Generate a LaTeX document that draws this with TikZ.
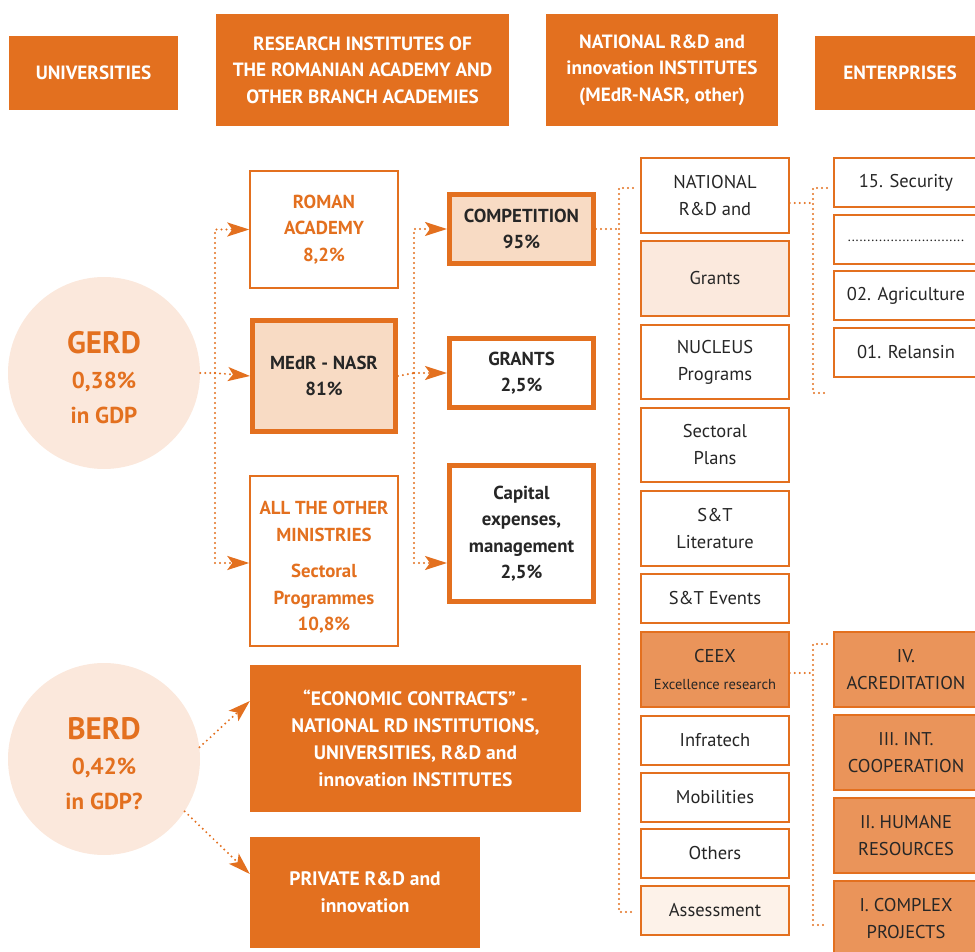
\documentclass[tikz,border=0pt]{standalone}
\usepackage{fontspec}
\setmainfont{PT Sans}
\usetikzlibrary{arrows.meta}
\definecolor{org}{HTML}{E3701F}
\definecolor{peach}{HTML}{FBE8DC}
\definecolor{medfill}{HTML}{F8DBC4}
\definecolor{ceexfill}{HTML}{EA945A}
\definecolor{lightp}{HTML}{FBE9DD}
\definecolor{vlight}{HTML}{FDF2E9}
\definecolor{dark}{HTML}{262626}
\newcommand\fs[2]{\fontsize{#1}{#2}\selectfont}
\newcommand\mybox[7]{\node[#6, minimum width={(#4-#2)*1pt}, minimum height={(#5-#3)*1pt}] (#1) at ({(#2+#4)/2},{(#3+#5)/2}) {#7};}
\begin{document}
\begin{tikzpicture}[x=1pt,y=-1pt,
  bx/.style={rectangle, inner sep=0pt, align=center},
  hdr/.style={bx, fill=org, text=white, font=\bfseries\fs{19.2}{26.5}},
  thinbox/.style={bx, draw=org, line width=1.4pt, fill=white},
  thickbox/.style={bx, draw=org, line width=5pt},
  orgtxt/.style={text=org, font=\bfseries\fs{18.8}{26.5}},
  darktxt/.style={text=dark, font=\bfseries\fs{18.8}{26.5}},
  rbox/.style={thinbox, text=dark, font=\fs{18.5}{27}},
  fbox/.style={bx, draw=org, line width=1.4pt, fill=ceexfill, text=dark, font=\fs{18.5}{27}},
  circ/.style={circle, fill=peach, minimum size=192pt, inner sep=0pt, align=center, text=org, font=\bfseries\fs{23}{35}},
  dots/.style={draw=org, line width=2.2pt, line cap=round, dash pattern=on 0pt off 5pt},
  arr/.style={dots, -{Stealth[length=22pt, width=14pt, inset=5pt]}},
]
\useasboundingbox (0,0) rectangle (975,952);

% headers
\mybox{univ}{9}{36}{178}{110}{hdr}{UNIVERSITIES}
\mybox{rinst}{216}{14}{509}{126}{hdr}{RESEARCH INSTITUTES OF\\THE ROMANIAN ACADEMY AND\\OTHER BRANCH ACADEMIES}
\mybox{ninst}{546}{14}{778}{126}{hdr}{NATIONAL R\&D and\\innovation INSTITUTES\\(MEdR-NASR, other)}
\mybox{ent}{815}{36}{985}{110}{hdr}{ENTERPRISES}

% circles
\node[circ] (gerd) at (104,373) {{\fs{31}{35}\rule{0pt}{31pt}GERD}\\0,38\%\\in GDP};
\node[circ] (berd) at (104,759) {{\fs{31}{35}\rule{0pt}{31pt}BERD}\\0,42\%\\in GDP?};

% middle columns
\mybox{roman}{250}{171}{398}{288}{thinbox, orgtxt}{ROMAN\\ACADEMY\\8,2\%}
\mybox{medr}{252.5}{320.5}{395.5}{431.5}{thickbox, fill=medfill, darktxt}{MEdR - NASR\\81\%}
\mybox{other}{250}{476}{398}{646}{thinbox, orgtxt}{\rule{0pt}{26pt}ALL THE OTHER\\MINISTRIES\\[10pt]Sectoral\\Programmes\\10,8\%}
\mybox{comp}{449.5}{194.5}{593.5}{263.5}{thickbox, fill=medfill, darktxt}{COMPETITION\\95\%}
\mybox{grants}{449.5}{338.5}{593.5}{407.5}{thickbox, fill=white, darktxt}{GRANTS\\2,5\%}
\mybox{capex}{449.5}{465.5}{593.5}{601.5}{thickbox, fill=white, darktxt}{Capital\\expenses,\\management\\2,5\%}

% right column
\mybox{nat}{641}{158}{789}{233}{rbox}{NATIONAL\\R\&D and}
\mybox{grnt}{641}{241}{789}{316}{rbox, fill=lightp}{Grants}
\mybox{nuc}{641}{325}{789}{399}{rbox}{NUCLEUS\\Programs}
\mybox{sect}{641}{408}{789}{482}{rbox}{Sectoral\\Plans}
\mybox{lit}{641}{491}{789}{566}{rbox}{S\&T\\Literature}
\mybox{ev}{641}{574}{789}{623}{rbox}{S\&T Events}
\mybox{ceex}{641}{632}{789}{707}{fbox}{CEEX\\{\fs{14.5}{27}Excellence research}}
\mybox{infra}{641}{716}{789}{765}{rbox}{Infratech}
\mybox{mob}{641}{773}{789}{822}{rbox}{Mobilities}
\mybox{oth}{641}{829}{789}{878}{rbox}{Others}
\mybox{asm}{641}{886}{789}{935}{rbox, fill=vlight}{Assessment}

% far right column
\mybox{sec}{834}{158}{978}{207}{rbox}{15. Security}
\mybox{etc}{834}{215}{978}{264}{rbox}{\raisebox{-4pt}{\fs{14}{27}..............................}}
\mybox{agr}{834}{271}{978}{320}{rbox}{02. Agriculture}
\mybox{rel}{834}{328}{978}{377}{rbox}{01. Relansin}
\mybox{acr}{834}{632}{978}{707}{fbox}{IV.\\ACREDITATION}
\mybox{coop}{834}{715}{978}{790}{fbox}{III. INT.\\COOPERATION}
\mybox{hum}{834}{798}{978}{873}{fbox}{II. HUMANE\\RESOURCES}
\mybox{cplx}{834}{881}{978}{956}{fbox}{I. COMPLEX\\PROJECTS}

% bottom boxes
\mybox{econ}{250}{665}{581}{812}{hdr, font=\bfseries\fs{19.5}{27}}{``ECONOMIC CONTRACTS'' -\\NATIONAL RD INSTITUTIONS,\\UNIVERSITIES, R\&D and\\innovation INSTITUTES}
\mybox{priv}{250}{837}{480}{948}{hdr, font=\bfseries\fs{19.5}{27}}{PRIVATE R\&D and\\innovation}

% connectors: GERD
\coordinate (j1) at (215,373);
\coordinate (j1b) at (215,563);
\draw[dots] (gerd.east) -- (j1);
\draw[arr] (j1) |- (roman.west);
\draw[arr] (j1) -- (medr.west);
\draw[arr] (j1) |- (other.west |- j1b);

% connectors: MEdR
\coordinate (j2) at (414,373);
\coordinate (j2b) at (414,563);
\draw[dots] (medr.east) -- (j2);
\draw[arr] (j2) |- (comp.west);
\draw[arr] (j2) -- (grants.west);
\draw[arr] (j2) |- (capex.west |- j2b);

% connectors: competition bracket
\coordinate (k) at (619,229);
\coordinate (kt) at (633,188);
\coordinate (kb) at (633,912);
\draw[dots] (comp.east) -- (k);
\draw[dots] (kt) -| (k) |- (kb);

% connectors: national bracket
\coordinate (m) at (813,203);
\coordinate (mt) at (827,188);
\coordinate (mb) at (827,393);
\draw[dots] (nat.east |- m) -- (m);
\draw[dots] (mt) -| (m) |- (mb);

% connectors: CEEX bracket
\coordinate (n) at (813,673);
\coordinate (nt) at (827,644);
\coordinate (nb) at (827,925);
\draw[dots] (ceex.east |- n) -- (n);
\draw[dots] (nt) -| (n) |- (nb);

% connectors: BERD
\coordinate (ta) at (0,701);
\coordinate (tb) at (0,874);
\draw[arr] (berd.7) -- (econ.west |- ta);
\draw[arr] (berd.-33) -- (priv.west |- tb);
\end{tikzpicture}
\end{document}
